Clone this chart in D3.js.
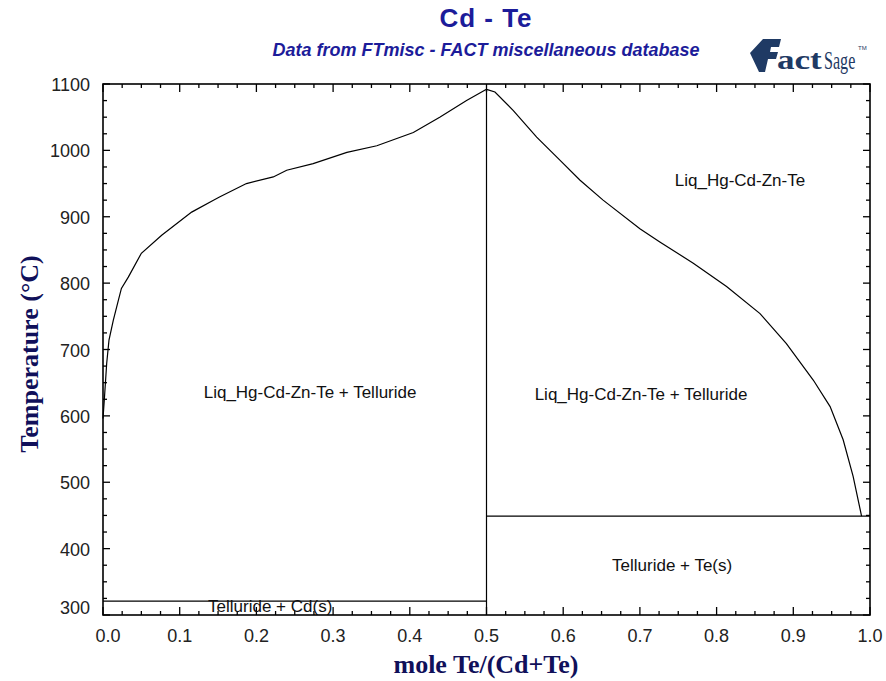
<!DOCTYPE html>
<html>
<head>
<meta charset="utf-8">
<script src="https://cdn.jsdelivr.net/npm/d3@7"></script>
<style>
  body { margin: 0; background: #fff; }
  svg { display: block; }
</style>
</head>
<body>
<div id="chart"></div>
<script>
// liquidus, Cd-rich side (x = mole Te/(Cd+Te), T in C)
const liqLeft = [
  [0.000, 596], [0.0017, 624], [0.0048, 679], [0.0078, 714], [0.0134, 744],
  [0.020, 774], [0.024, 792], [0.033, 809], [0.050, 845], [0.0765, 872],
  [0.1156, 907], [0.144, 925], [0.1525, 930], [0.187, 950], [0.222, 960],
  [0.2395, 970], [0.274, 980], [0.318, 997], [0.357, 1007], [0.4046, 1027],
  [0.439, 1050], [0.474, 1075], [0.500, 1092]
];
// liquidus, Te-rich side
const liqRight = [
  [0.500, 1092], [0.511, 1088], [0.535, 1060], [0.5654, 1020], [0.596, 985],
  [0.622, 955], [0.652, 925], [0.700, 882], [0.726, 862], [0.7696, 830],
  [0.813, 795], [0.8566, 754], [0.891, 709], [0.926, 654], [0.948, 614],
  [0.965, 564], [0.978, 509], [0.989, 449]
];
// invariant lines
const cdLine = [[0, 321], [0.5, 321]];
const teLine = [[0.5, 449], [1, 449]];
const compound = [[0.5, 300], [0.5, 1092]];

const regionLabels = [
  { x: 0.8305, T: 946, text: "Liq_Hg-Cd-Zn-Te" },
  { x: 0.27, T: 627, text: "Liq_Hg-Cd-Zn-Te + Telluride" },
  { x: 0.7015, T: 624, text: "Liq_Hg-Cd-Zn-Te + Telluride" },
  { x: 0.742, T: 367, text: "Telluride + Te(s)" },
  { x: 0.218, T: 305, text: "Telluride + Cd(s)" }
];

const xTicks = d3.range(0, 11).map(i => i / 10);
const yTicks = d3.range(300, 1101, 100);

const width = 886, height = 681;
const margin = { top: 84, right: 16, bottom: 66, left: 103 };
const plotW = width - margin.left - margin.right;
const plotH = height - margin.top - margin.bottom;

const svg = d3.select("#chart").append("svg")
  .attr("width", width)
  .attr("height", height);

const x = d3.scaleLinear().domain([0, 1]).range([margin.left, margin.left + plotW]);
const y = d3.scaleLinear().domain([300, 1100]).range([margin.top + plotH, margin.top]);

const blue = "#1c1c9a";
const navy = "#1f3a64";

// titles
svg.append("text")
  .attr("x", 486).attr("y", 27)
  .attr("text-anchor", "middle")
  .attr("font-family", "Liberation Sans, Arial, sans-serif")
  .attr("font-weight", "bold")
  .attr("font-size", 26)
  .attr("letter-spacing", 1)
  .attr("fill", blue)
  .text("Cd - Te");

svg.append("text")
  .attr("x", 486).attr("y", 56)
  .attr("text-anchor", "middle")
  .attr("font-family", "Liberation Sans, Arial, sans-serif")
  .attr("font-weight", "bold")
  .attr("font-style", "italic")
  .attr("font-size", 18)
  .attr("fill", blue)
  .text("Data from FTmisc - FACT miscellaneous database");

// FactSage logo (rough)
const logo = svg.append("g").attr("transform", "translate(750,36)");
logo.append("path")
  .attr("d", "M0,17 L13,3 L31,3 L29,11 L21,11 L20,16 L28,16 L26,23 L18,23 L15,36 L9,36 Z")
  .attr("fill", navy);
logo.append("g")
  .attr("transform", "translate(27,33) scale(1.3,1)")
  .append("text")
  .attr("font-family", "Liberation Serif, Times New Roman, serif")
  .attr("font-weight", "bold")
  .attr("font-size", 27)
  .attr("fill", navy)
  .text("act");
logo.append("g")
  .attr("transform", "translate(74,33) scale(0.62,1)")
  .append("text")
  .attr("font-family", "Liberation Serif, Times New Roman, serif")
  .attr("font-size", 26)
  .attr("fill", navy)
  .text("Sage");
logo.append("text")
  .attr("x", 108).attr("y", 14)
  .attr("font-family", "Liberation Sans, sans-serif")
  .attr("font-size", 6)
  .attr("fill", navy)
  .text("TM");

// ticks on all four sides, pointing into the plot
const minorX = d3.range(0, 41).map(i => i / 40);
const minorY = d3.range(300, 1101, 25);
const bottomY = margin.top + plotH, rightX = margin.left + plotW;
const ticks = svg.append("g").attr("stroke", "#000").attr("stroke-width", 1.3);

minorX.forEach(v => {
  const len = Math.abs(v * 10 - Math.round(v * 10)) < 1e-6 ? 8 : 4;
  ticks.append("line").attr("x1", x(v)).attr("x2", x(v))
    .attr("y1", bottomY).attr("y2", bottomY - len);
  ticks.append("line").attr("x1", x(v)).attr("x2", x(v))
    .attr("y1", margin.top).attr("y2", margin.top + len);
});
minorY.forEach(v => {
  const len = v % 100 === 0 ? 7 : 4;
  ticks.append("line").attr("y1", y(v)).attr("y2", y(v))
    .attr("x1", margin.left).attr("x2", margin.left + len);
  ticks.append("line").attr("y1", y(v)).attr("y2", y(v))
    .attr("x1", rightX).attr("x2", rightX - len);
});

// tick labels
svg.append("g").selectAll("text")
  .data(xTicks).join("text")
  .attr("x", d => x(d) + (d === 0 ? 5 : 0))
  .attr("y", bottomY + 27)
  .attr("text-anchor", "middle")
  .attr("font-family", "Liberation Sans, Arial, sans-serif")
  .attr("font-size", 18)
  .attr("fill", "#222")
  .text(d => d.toFixed(1));

svg.append("g").selectAll("text")
  .data(yTicks).join("text")
  .attr("x", margin.left - 13)
  .attr("y", d => y(d) + (d === 300 ? -1 : 7))
  .attr("text-anchor", "end")
  .attr("font-family", "Liberation Sans, Arial, sans-serif")
  .attr("font-size", 18)
  .attr("fill", "#222")
  .text(d => d);

// axis titles
svg.append("text")
  .attr("x", 486).attr("y", 673)
  .attr("text-anchor", "middle")
  .attr("font-family", "Liberation Serif, Times New Roman, serif")
  .attr("font-weight", "bold")
  .attr("font-size", 26)
  .attr("fill", "#10105a")
  .text("mole Te/(Cd+Te)");

svg.append("text")
  .attr("transform", "translate(38,354) rotate(-90)")
  .attr("text-anchor", "middle")
  .attr("font-family", "Liberation Serif, Times New Roman, serif")
  .attr("font-weight", "bold")
  .attr("font-size", 26)
  .attr("fill", "#10105a")
  .text("Temperature (°C)");

// phase boundaries
const line = d3.line().x(d => x(d[0])).y(d => y(d[1]));
const plot = svg.append("g");
[liqLeft, liqRight, cdLine, teLine, compound].forEach(pts => {
  plot.append("path")
    .attr("d", line(pts))
    .attr("fill", "none")
    .attr("stroke", "#000")
    .attr("stroke-width", 1.2);
});

// region labels
plot.selectAll("text.region")
  .data(regionLabels).join("text")
  .attr("class", "region")
  .attr("x", d => x(d.x))
  .attr("y", d => y(d.T))
  .attr("text-anchor", "middle")
  .attr("font-family", "Liberation Sans, Arial, sans-serif")
  .attr("font-size", 17)
  .attr("fill", "#111")
  .text(d => d.text);

// frame
svg.append("rect")
  .attr("x", margin.left).attr("y", margin.top)
  .attr("width", plotW).attr("height", plotH)
  .attr("fill", "none")
  .attr("stroke", "#000")
  .attr("stroke-width", 1.6);
</script>
</body>
</html>
